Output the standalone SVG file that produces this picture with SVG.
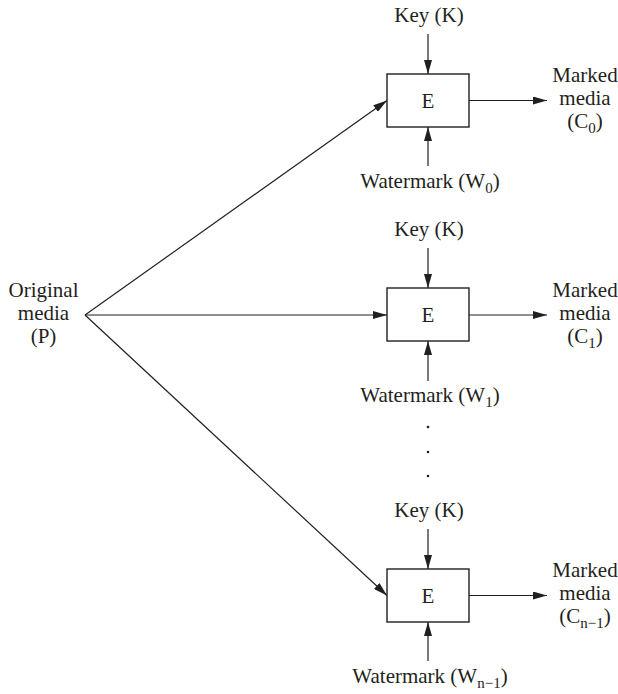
<svg xmlns="http://www.w3.org/2000/svg" width="618" height="694" viewBox="0 0 618 694">
  <style>
    text { font-family: "Liberation Serif", "Times New Roman", serif; font-size: 21px; fill: #231f20; text-anchor: middle; }
    .sub { font-size: 15px; }
    .box { fill: #ffffff; stroke: #231f20; stroke-width: 1.4; }
    .wire { fill: none; stroke: #231f20; stroke-width: 1.2; marker-end: url(#arrow); }
  </style>
  <defs>
    <marker id="arrow" viewBox="0 0 14 8" refX="14" refY="4" markerWidth="14" markerHeight="8" markerUnits="userSpaceOnUse" orient="auto">
      <path d="M0,0 L14,4 L0,8 Z" fill="#231f20"/>
    </marker>
  </defs>
  <rect width="618" height="694" fill="#ffffff"/>

  <!-- connectors -->
  <g id="connectors">
    <line class="wire" x1="85" y1="315" x2="387" y2="100.5"/>
    <line class="wire" x1="85" y1="315" x2="387" y2="315"/>
    <line class="wire" x1="85" y1="315" x2="387" y2="595.5"/>

    <line class="wire" x1="428" y1="34" x2="428" y2="74"/>
    <line class="wire" x1="428" y1="166" x2="428" y2="127"/>
    <line class="wire" x1="469" y1="100.5" x2="547" y2="100.5"/>

    <line class="wire" x1="428" y1="248" x2="428" y2="288"/>
    <line class="wire" x1="428" y1="381" x2="428" y2="341"/>
    <line class="wire" x1="469" y1="315" x2="547" y2="315"/>

    <line class="wire" x1="428" y1="529" x2="428" y2="569"/>
    <line class="wire" x1="428" y1="661" x2="428" y2="622"/>
    <line class="wire" x1="469" y1="595.5" x2="547" y2="595.5"/>
  </g>

  <!-- source -->
  <g id="original-media">
    <text x="43.5" y="297">Original</text>
    <text x="43.5" y="320">media</text>
    <text x="43.5" y="343">(P)</text>
  </g>

  <!-- embedder 0 -->
  <g id="embedder-0">
    <rect class="box" x="387" y="74" width="82" height="53"/>
    <text x="428" y="108">E</text>
  </g>
  <g id="key-0"><text x="429" y="22">Key (K)</text></g>
  <g id="watermark-0"><text x="430" y="188">Watermark (W<tspan class="sub" dy="4.5">0</tspan><tspan dy="-4.5">)</tspan></text></g>
  <g id="marked-0">
    <text x="585" y="82">Marked</text>
    <text x="585" y="105">media</text>
    <text x="585" y="128">(C<tspan class="sub" dy="4.5">0</tspan><tspan dy="-4.5">)</tspan></text>
  </g>

  <!-- embedder 1 -->
  <g id="embedder-1">
    <rect class="box" x="387" y="288" width="82" height="53"/>
    <text x="428" y="322">E</text>
  </g>
  <g id="key-1"><text x="429" y="236">Key (K)</text></g>
  <g id="watermark-1"><text x="430" y="402">Watermark (W<tspan class="sub" dy="4.5">1</tspan><tspan dy="-4.5">)</tspan></text></g>
  <g id="marked-1">
    <text x="585" y="297">Marked</text>
    <text x="585" y="320">media</text>
    <text x="585" y="343">(C<tspan class="sub" dy="4.5">1</tspan><tspan dy="-4.5">)</tspan></text>
  </g>

  <!-- continuation dots -->
  <g id="ellipsis" fill="#231f20">
    <circle cx="428" cy="427" r="1.3"/>
    <circle cx="428" cy="452" r="1.3"/>
    <circle cx="428" cy="476" r="1.3"/>
  </g>

  <!-- embedder n-1 -->
  <g id="embedder-n-1">
    <rect class="box" x="387" y="569" width="82" height="53"/>
    <text x="428" y="603">E</text>
  </g>
  <g id="key-n-1"><text x="429" y="517">Key (K)</text></g>
  <g id="watermark-n-1"><text x="430" y="683">Watermark (W<tspan class="sub" dy="4.5">n−1</tspan><tspan dy="-4.5">)</tspan></text></g>
  <g id="marked-n-1">
    <text x="585" y="577">Marked</text>
    <text x="585" y="600">media</text>
    <text x="585" y="623">(C<tspan class="sub" dy="4.5">n−1</tspan><tspan dy="-4.5">)</tspan></text>
  </g>
</svg>
